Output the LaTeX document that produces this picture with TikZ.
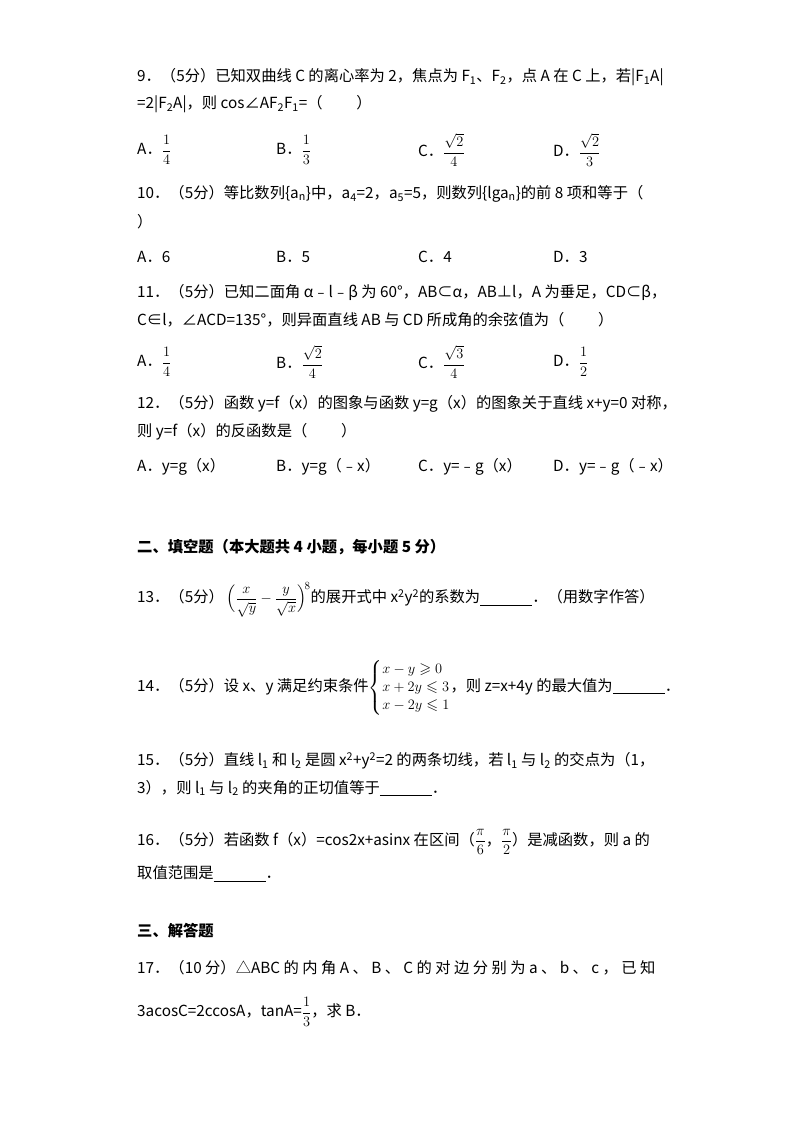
\documentclass[tikz,border=0pt]{standalone}
\usepackage{amsmath,amssymb}
\usepackage{fontspec}
\setmainfont{Noto Sans CJK SC}
\begin{document}
\begin{tikzpicture}[x=1pt,y=-1pt,
  t/.style={anchor=west,inner sep=0pt,font=\fontsize{15.3}{18}\selectfont},
  h/.style={anchor=west,inner sep=0pt,font=\fontsize{15.3}{18}\selectfont\bfseries}]
\useasboundingbox (0,0) rectangle (800,1133);
\fill[white] (0,0) rectangle (800,1133);
\newcommand\ff[2]{$\dfrac{#1}{#2}$}
% 9
\node[t] (q9a) at (137,77) {9．（5分）已知双曲线 C 的离心率为 2，焦点为 F\textsubscript{1}、F\textsubscript{2}，点 A 在 C 上，若|F\textsubscript{1}A|};
\node[t] (q9b) at (137,104) {=2|F\textsubscript{2}A|，则 cos∠AF\textsubscript{2}F\textsubscript{1}=（\hspace{2.2em}）};
\node[t] (o9a) at (137,150) {A．\ff{1}{4}};
\node[t] (o9b) at (276,150) {B．\ff{1}{3}};
\node[t] (o9c) at (418,150) {C．\ff{\sqrt2}{4}};
\node[t] (o9d) at (553,150) {D．\ff{\sqrt2}{3}};
% 10
\node[t] (q10a) at (137,194) {10．（5分）等比数列\{a\textsubscript{n}\}中，a\textsubscript{4}=2，a\textsubscript{5}=5，则数列\{lga\textsubscript{n}\}的前 8 项和等于（};
\node[t] (q10b) at (137,222) {）};
\node[t] (o10a) at (137,257) {A．6};
\node[t] (o10b) at (276,257) {B．5};
\node[t] (o10c) at (418,257) {C．4};
\node[t] (o10d) at (553,257) {D．3};
% 11
\node[t] (q11a) at (137,292) {11．（5分）已知二面角 α﹣l﹣β 为 60°，AB⊂α，AB⊥l，A 为垂足，CD⊂β，};
\node[t] (q11b) at (137,320) {C∈l，∠ACD=135°，则异面直线 AB 与 CD 所成角的余弦值为（\hspace{2.2em}）};
\node[t] (o11a) at (137,362) {A．\ff{1}{4}};
\node[t] (o11b) at (276,362) {B．\ff{\sqrt2}{4}};
\node[t] (o11c) at (418,362) {C．\ff{\sqrt3}{4}};
\node[t] (o11d) at (553,362) {D．\ff{1}{2}};
% 12
\node[t] (q12a) at (137,404) {12．（5分）函数 y=f（x）的图象与函数 y=g（x）的图象关于直线 x+y=0 对称，};
\node[t] (q12b) at (137,432) {则 y=f（x）的反函数是（\hspace{2.2em}）};
\node[t] (o12a) at (137,467) {A．y=g（x）};
\node[t] (o12b) at (276,467) {B．y=g（﹣x）};
\node[t] (o12c) at (418,467) {C．y=﹣g（x）};
\node[t] (o12d) at (553,467) {D．y=﹣g（﹣x）};
% section 2
\node[h] (s2) at (137,547) {二、填空题（本大题共 4 小题，每小题 5 分）};
\node[t] (q13) at (137,600) {13．（5分）\,$\Bigl(\dfrac{x}{\sqrt y}-\dfrac{y}{\sqrt x}\Bigr)^{\!8}$的展开式中 x\textsuperscript{2}y\textsuperscript{2}的系数为\underline{\hspace{52pt}}．（用数字作答）};
\node[t] (q14) at (137,688) {14．（5分）设 x、y 满足约束条件$\left\{\begin{array}{@{}l@{}} x-y\geqslant 0\\ x+2y\leqslant 3\\ x-2y\leqslant 1\end{array}\right.$，则 z=x+4y 的最大值为\underline{\hspace{52pt}}．};
\node[t] (q15a) at (137,761) {15．（5分）直线 l\textsubscript{1} 和 l\textsubscript{2} 是圆 x\textsuperscript{2}+y\textsuperscript{2}=2 的两条切线，若 l\textsubscript{1} 与 l\textsubscript{2} 的交点为（1，};
\node[t] (q15b) at (137,788) {3），则 l\textsubscript{1} 与 l\textsubscript{2} 的夹角的正切值等于\underline{\hspace{52pt}}．};
\node[t] (q16a) at (137,842) {16．（5分）若函数 f（x）=cos2x+asinx 在区间（\ff{\pi}{6}，\ff{\pi}{2}）是减函数，则 a 的};
\node[t] (q16b) at (137,874) {取值范围是\underline{\hspace{52pt}}．};
\node[h] (s3) at (137,931) {三、解答题};
\node[t] (q17a) at (137,968) {17．（10 分）△ABC 的 内 角 A 、 B 、 C 的 对 边 分 别 为 a 、 b 、 c ， 已 知};
\node[t] (q17b) at (137,1012) {3acosC=2ccosA，tanA=\ff{1}{3}，求 B．};
\end{tikzpicture}
\end{document}
